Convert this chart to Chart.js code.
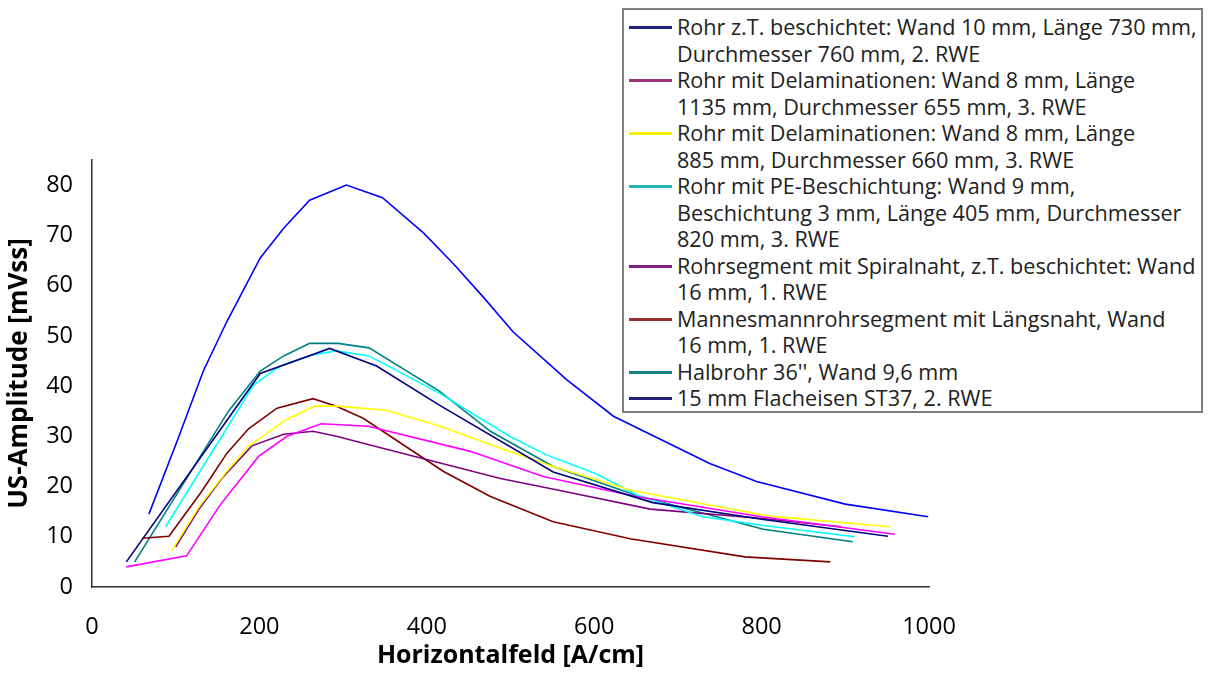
<!DOCTYPE html>
<html>
<head>
<meta charset="utf-8">
<script src="https://cdn.jsdelivr.net/npm/chart.js@4"></script>
<style>
  html, body { margin: 0; padding: 0; background: #fff; }
  #wrap { position: relative; width: 1208px; height: 675px; }
  #legend {
    position: absolute; left: 622px; top: 8px; width: 581px; height: 405px;
    border: 2px solid #7f7f7f; background: #fff; box-sizing: border-box;
    font-family: "Open Sans", sans-serif; font-size: 21.6px; color: #222;
    padding-top: 4px;
  }
  .item { position: relative; padding-left: 53px; line-height: 26.5px; white-space: nowrap; }
  .swatch { position: absolute; left: 5px; top: 12px; width: 43px; height: 3px; }
</style>
</head>
<body>
<div id="wrap">
  <canvas id="chart" width="1208" height="675"></canvas>
  <div id="legend"></div>
</div>
<script>
// x = Horizontalfeld [A/cm], y = US-Amplitude [mVss]
var rohrZtX = [41, 201, 284, 340, 415, 551, 670, 800, 951];
var rohrZtY = [5, 42.5, 47.5, 44, 36.2, 22.9, 16.8, 13.5, 10.1];

var delam1135X = [41, 113, 153, 199, 233, 274, 330, 452, 539, 650, 800, 959];
var delam1135Y = [4, 6.2, 16.3, 26, 30, 32.5, 32, 27, 22, 18, 14, 10.5];

var delam885X = [95, 128, 159, 187, 231, 266, 292, 352, 416, 488, 551, 645, 810, 953];
var delam885Y = [7.2, 16, 22.6, 28, 33.2, 36, 36, 35.2, 32, 27.6, 24, 19.2, 14.1, 12];

var peX = [88, 193, 225, 263, 292, 331, 416, 499, 543, 603, 651, 730, 800, 911];
var peY = [12, 40.2, 44, 46.2, 47, 46, 38.5, 30, 26.3, 22.5, 18.3, 14, 12.3, 10];

var spiralX = [100, 127, 155, 191, 229, 264, 292, 324, 488, 559, 667, 798, 895];
var spiralY = [8, 15.3, 21.6, 28.1, 30.4, 31, 30, 28.6, 21.6, 19.2, 15.5, 13.7, 12];

var mannesX = [60, 92, 131, 161, 187, 221, 264, 292, 324, 420, 476, 551, 643, 780, 882];
var mannesY = [9.7, 10.1, 19, 26.6, 31.5, 35.6, 37.5, 36, 33.6, 23, 18, 13, 9.6, 6, 5];

var halbX = [51, 163, 201, 229, 260, 294, 331, 415, 476, 551, 651, 802, 909];
var halbY = [5, 35, 43, 46, 48.5, 48.5, 47.6, 39, 31, 24, 18.2, 11.5, 9];

var flachX = [68, 103, 133, 161, 201, 229, 260, 304, 347, 396, 432, 467, 503, 567, 623, 738, 794, 900, 999];
var flachY = [14.5, 29.6, 43, 52.8, 65.5, 71.4, 77, 80, 77.5, 70.5, 64.3, 57.8, 50.8, 41.3, 34, 24.6, 21, 16.5, 14];

var seriesLabels = [
  ["Rohr z.T. beschichtet: Wand 10 mm, Länge 730 mm,", "Durchmesser 760 mm, 2. RWE"],
  ["Rohr mit Delaminationen: Wand 8 mm, Länge", "1135 mm, Durchmesser 655 mm, 3. RWE"],
  ["Rohr mit Delaminationen: Wand 8 mm, Länge", "885 mm, Durchmesser 660 mm, 3. RWE"],
  ["Rohr mit PE-Beschichtung: Wand 9 mm,", "Beschichtung 3 mm, Länge 405 mm, Durchmesser", "820 mm, 3. RWE"],
  ["Rohrsegment mit Spiralnaht, z.T. beschichtet: Wand", "16 mm, 1. RWE"],
  ["Mannesmannrohrsegment mit Längsnaht, Wand", "16 mm, 1. RWE"],
  ["Halbrohr 36'', Wand 9,6 mm"],
  ["15 mm Flacheisen ST37, 2. RWE"]
];
var lineColors = ["#000080", "#ff00ff", "#ffff00", "#00ffff", "#800080", "#800000", "#008080", "#0000ff"];
var legendColors = ["#23217a", "#993377", "#f5f000", "#22b4b4", "#7f1f7f", "#993333", "#118080", "#23217a"];

var xs = [rohrZtX, delam1135X, delam885X, peX, spiralX, mannesX, halbX, flachX];
var ys = [rohrZtY, delam1135Y, delam885Y, peY, spiralY, mannesY, halbY, flachY];

var datasets = xs.map(function (xa, i) {
  return {
    label: seriesLabels[i],
    legendColor: legendColors[i],
    data: xa.map(function (x, j) { return { x: x, y: ys[i][j] }; }),
    borderColor: lineColors[i],
    backgroundColor: lineColors[i],
    borderWidth: 1.6,
    pointRadius: 0,
    tension: 0,
    fill: false
  };
});

// html legend, built from the datasets
var htmlLegend = {
  id: "htmlLegend",
  afterUpdate: function (chart) {
    var box = document.getElementById("legend");
    box.innerHTML = "";
    chart.data.datasets.forEach(function (ds) {
      var item = document.createElement("div");
      item.className = "item";
      var sw = document.createElement("span");
      sw.className = "swatch";
      sw.style.background = ds.legendColor;
      item.appendChild(sw);
      ds.label.forEach(function (line, k) {
        if (k > 0) item.appendChild(document.createElement("br"));
        item.appendChild(document.createTextNode(line));
      });
      box.appendChild(item);
    });
  }
};

var tickFont = { family: "'Open Sans', sans-serif", size: 23.5 };

new Chart(document.getElementById("chart"), {
  type: "line",
  data: { datasets: datasets },
  plugins: [htmlLegend],
  options: {
    responsive: false,
    animation: false,
    layout: { padding: { top: 160, right: 279, left: 0, bottom: 0 } },
    plugins: { legend: { display: false }, tooltip: { enabled: false } },
    scales: {
      x: {
        type: "linear",
        min: 0,
        max: 1000,
        ticks: {
          stepSize: 200, color: "#000", font: tickFont, padding: 18,
          callback: function (v) { return String(v); }
        },
        grid: { display: false, drawTicks: true, tickLength: 8, tickColor: "#333" },
        border: { color: "#333", width: 1.5 },
        title: {
          display: true, text: "Horizontalfeld [A/cm]", color: "#000",
          font: { family: "'Open Sans', sans-serif", size: 25, weight: "bold" }, padding: { top: 0 }
        },
        afterFit: function (s) { s.height = 88; }
      },
      y: {
        min: 0,
        max: 85,
        ticks: { stepSize: 10, includeBounds: false, color: "#000", font: tickFont, padding: 11 },
        grid: { display: false, drawTicks: true, tickLength: 8, tickColor: "#333" },
        border: { color: "#333", width: 1.5 },
        title: {
          display: true, text: "US-Amplitude [mVss]", color: "#000",
          font: { family: "'Open Sans', sans-serif", size: 26, weight: "bold" }, padding: { bottom: 0 }
        },
        afterFit: function (s) { s.width = 92; }
      }
    }
  }
});
</script>
</body>
</html>
